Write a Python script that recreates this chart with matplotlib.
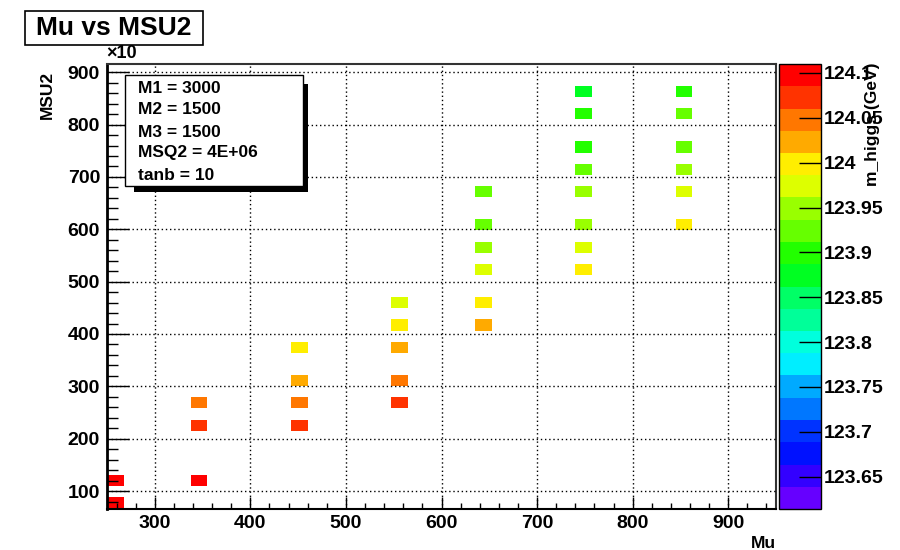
import numpy as np
import matplotlib
matplotlib.use('Agg')
import matplotlib.pyplot as plt
from matplotlib.colors import ListedColormap, BoundaryNorm
from matplotlib.patches import Rectangle
from matplotlib.ticker import MultipleLocator, FuncFormatter

plt.rcParams['font.family'] = ['Liberation Sans', 'DejaVu Sans']
plt.rcParams['font.weight'] = 'bold'

# scan points: Mu, MSU2 and the resulting Higgs mass
mu = [260, 260,
      345, 345, 345,
      450, 450, 450, 450,
      555, 555, 555, 555, 555,
      645, 645, 645, 645, 645, 645,
      750, 750, 750, 750, 750, 750, 750, 750,
      855, 855, 855, 855, 855, 855]
msu2 = [780, 1200,
        1200, 2250, 2700,
        2250, 2700, 3100, 3750,
        2700, 3100, 3750, 4200, 4600,
        4200, 4600, 5250, 5650, 6100, 6700,
        5250, 5650, 6100, 6700, 7150, 7550, 8200, 8650,
        6100, 6700, 7150, 7550, 8200, 8650]
m_higgs = [124.10, 124.10,
           124.10, 124.07, 124.05,
           124.07, 124.05, 124.02, 124.00,
           124.07, 124.05, 124.02, 124.00, 123.97,
           124.02, 124.00, 123.97, 123.95, 123.92, 123.92,
           124.00, 123.97, 123.95, 123.95, 123.92, 123.90, 123.90, 123.87,
           124.00, 123.97, 123.95, 123.92, 123.92, 123.90]

params = ['M1 = 3000', 'M2 = 1500', 'M3 = 1500', 'MSQ2 = 4E+06', 'tanb = 10']

# 20-step rainbow palette, low to high
palette = ['#6600ff', '#3300ff', '#0011ff', '#0033ff', '#0077ff',
           '#00aaff', '#00eeff', '#00ffdd', '#00ff99', '#00ff66',
           '#00ff22', '#22ff00', '#66ff00', '#99ff00', '#ddff00',
           '#ffee00', '#ffaa00', '#ff7700', '#ff3300', '#ff0000']
z_min, z_max = 123.614, 124.110

mu_edges = np.linspace(250, 950, 41)
msu2_edges = np.linspace(666.67, 9166.67, 41)

sums, _, _ = np.histogram2d(mu, msu2, bins=[mu_edges, msu2_edges], weights=m_higgs)
counts, _, _ = np.histogram2d(mu, msu2, bins=[mu_edges, msu2_edges])
grid = np.ma.masked_where(counts == 0, sums / np.maximum(counts, 1))

W, H = 900, 550


def fx(px):
    return px / W


def fy(py):
    return 1 - py / H


fig = plt.figure(figsize=(9, 5.5), dpi=100)
ax = fig.add_axes([fx(107), fy(508.5), (776 - 107) / W, (508.5 - 63.5) / H])

cmap = ListedColormap(palette)
norm = BoundaryNorm(np.linspace(z_min, z_max, 21), cmap.N)
mesh = ax.pcolormesh(mu_edges, msu2_edges, grid.T, cmap=cmap, norm=norm)

ax.set_xlim(250, 950)
ax.set_ylim(666.67, 9166.67)
ax.xaxis.set_major_locator(MultipleLocator(100))
ax.xaxis.set_minor_locator(MultipleLocator(20))
ax.yaxis.set_major_locator(MultipleLocator(1000))
ax.yaxis.set_minor_locator(MultipleLocator(200))
ax.yaxis.set_major_formatter(FuncFormatter(lambda v, pos: f'{v / 10:g}'))

ax.grid(True, which='major', color='black', linestyle=(0, (1, 2)), linewidth=1)
ax.set_axisbelow(False)

ax.tick_params(axis='both', which='both', direction='in', top=False, right=False,
               labelsize=14, color='black')
ax.tick_params(axis='y', which='major', length=15.8, width=1, pad=5)
ax.tick_params(axis='y', which='minor', length=7.9, width=1)
ax.tick_params(axis='x', which='major', length=8.6, width=1, pad=5)
ax.tick_params(axis='x', which='minor', length=4.3, width=1)
ax.spines['left'].set_linewidth(2)
for s in ['bottom', 'top', 'right']:
    ax.spines[s].set_linewidth(1.5)
ax.spines['top'].set_color('#333333')
ax.spines['right'].set_color('#333333')

# palette axis
cax = fig.add_axes([fx(779), fy(509), (821 - 779) / W, (509 - 64) / H])
cb = fig.colorbar(mesh, cax=cax, ticks=np.round(np.arange(123.65, 124.11, 0.05), 2))
cb.minorticks_off()
cb.outline.set_linewidth(1)
cax.yaxis.set_major_formatter(FuncFormatter(lambda v, pos: f'{v:g}'))
cax.tick_params(direction='in', length=15.8, width=1, pad=2, labelsize=14)

# title box
fig.add_artist(Rectangle((fx(25), fy(45)), 178 / W, 34 / H, transform=fig.transFigure,
                         facecolor='white', edgecolor='black', linewidth=1.2))
fig.text(fx(114), fy(28), 'Mu vs MSU2', ha='center', va='center', fontsize=19)

# parameter box with shadow
fig.add_artist(Rectangle((fx(133.7), fy(191.7)), (308.3 - 133.7) / W, (191.7 - 84) / H,
                         transform=fig.transFigure, facecolor='black', edgecolor='none'))
fig.add_artist(Rectangle((fx(124.7), fy(186)), (302.7 - 124.7) / W, (186 - 74.7) / H,
                         transform=fig.transFigure, facecolor='white', edgecolor='black',
                         linewidth=1))
for label, base in zip(params, [92.7, 114.3, 137, 157.3, 180.5]):
    fig.text(fx(138.3), fy(base), label, ha='left', va='baseline', fontsize=12.5)

fig.text(fx(106), fy(54), '×10', ha='left', va='center', fontsize=13)
fig.text(fx(47), fy(71), 'MSU2', rotation=90, ha='center', va='top', fontsize=12.5)
fig.text(fx(776), fy(543), 'Mu', ha='right', va='center', fontsize=12.5)
fig.text(fx(873), fy(62), 'm_higgs (GeV)', rotation=90, ha='center', va='top', fontsize=12.5)

fig.savefig('out.png', dpi=100)
